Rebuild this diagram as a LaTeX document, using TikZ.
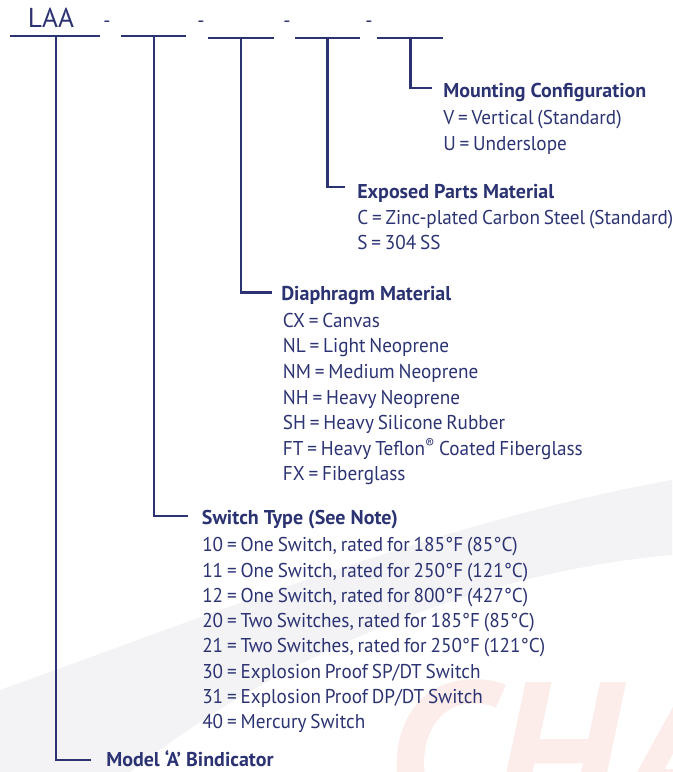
\documentclass[tikz,border=0pt]{standalone}
\usepackage{fontspec}
\setmainfont{PT Sans}
\newfontfamily\itemfont{PT Sans}[FakeStretch=0.96,WordSpace=0.75]
\definecolor{navy}{RGB}{44,51,114}
\definecolor{wmgrey}{RGB}{243,243,246}
\definecolor{wmred}{RGB}{252,236,234}
\begin{document}
\begin{tikzpicture}[x=0.75pt,y=-0.75pt,
  conn/.style={draw=navy,line width=1.8pt},
  uline/.style={draw=navy,line width=1.7pt},
  head/.style={anchor=base west,inner sep=0pt,text=navy,font=\fontsize{15}{18}\selectfont\bfseries},
  item/.style={anchor=base west,inner sep=0pt,text=navy,font=\itemfont\fontsize{15}{18}\selectfont},
  dashsign/.style={anchor=base,inner sep=0pt,text=navy,font=\fontsize{15}{18}\selectfont},
  ]
\useasboundingbox (0,0) rectangle (672,772);
% faint watermark
\begin{scope}
\clip (0,0) rectangle (672,772);
\fill[wmgrey] (0,690) .. controls (250,600) and (450,520) .. (672,480) -- (672,555) .. controls (500,570) and (300,640) .. (130,772) -- (0,772) -- cycle;
\node[anchor=base west,inner sep=0pt,text=wmred,font=\fontsize{150}{150}\selectfont\bfseries\itshape] (wm) at (385,822) {CHA};
\end{scope}
% code line
\node[anchor=base,inner sep=0pt,text=navy,font=\fontsize{20.5}{24}\selectfont] (laa) at (51,27) {LAA};
\node[dashsign] (d1) at (107,27) {-};
\node[dashsign] (d2) at (201,27) {-};
\node[dashsign] (d3) at (287,27) {-};
\node[dashsign] (d4) at (369,27) {-};
\coordinate (u1a) at (10,36);  \coordinate (u1b) at (100,36);
\coordinate (u2a) at (121,36); \coordinate (u2b) at (186,36);
\coordinate (u3a) at (208,38); \coordinate (u3b) at (274,38);
\coordinate (u4a) at (295,38); \coordinate (u4b) at (360,38);
\coordinate (u5a) at (377,38); \coordinate (u5b) at (443,38);
\draw[uline] (u1a) -- (u1b);
\draw[uline] (u2a) -- (u2b);
\draw[uline] (u3a) -- (u3b);
\draw[uline] (u4a) -- (u4b);
\draw[uline] (u5a) -- (u5b);
\coordinate (t1) at (56,36);
\coordinate (t2) at (154,36);
\coordinate (t3) at (241,38);
\coordinate (t4) at (327.5,38);
\coordinate (t5) at (410.5,38);
% hook ends
\coordinate (k1) at (91,760);
\coordinate (k2) at (188,516);
\coordinate (k3) at (272,292.5);
\coordinate (k4) at (345,187);
\coordinate (k5) at (432,88);
\draw[conn] (t1) |- (k1);
\draw[conn] (t2) |- (k2);
\draw[conn] (t3) |- (k3);
\draw[conn] (t4) |- (k4);
\draw[conn] (t5) |- (k5);
% Mounting configuration
\node[head] (hm) at (443,97.3) {Mounting Configuration};
\node[item] (m1) at (443,124.3) {V = Vertical (Standard)};
\node[item] (m2) at (443,150.7) {U = Underslope};
% Exposed parts
\node[head] (he) at (357,198) {Exposed Parts Material};
\node[item] (e1) at (357,224) {C = Zinc-plated Carbon Steel (Standard)};
\node[item] (e2) at (357,249.3) {S = 304 SS};
% Diaphragm
\node[head] (hd) at (281,300.7) {Diaphragm Material};
\node[item] (dm1) at (282.7,327.3) {CX = Canvas};
\node[item] (dm2) at (282.7,352.9) {NL = Light Neoprene};
\node[item] (dm3) at (282.7,378.5) {NM = Medium Neoprene};
\node[item] (dm4) at (282.7,404.1) {NH = Heavy Neoprene};
\node[item] (dm5) at (282.7,429.7) {SH = Heavy Silicone Rubber};
\node[item] (dm6) at (282.7,455.3) {FT = Heavy Teflon\textsuperscript{®} Coated Fiberglass};
\node[item] (dm7) at (282.7,480.9) {FX = Fiberglass};
% Switch type
\node[head] (hs) at (201.7,524.7) {Switch Type (See Note)};
\node[item] (s1) at (202,551.7) {10 = One Switch, rated for 185°F (85°C)};
\node[item] (s2) at (202,577) {11 = One Switch, rated for 250°F (121°C)};
\node[item] (s3) at (202,602.3) {12 = One Switch, rated for 800°F (427°C)};
\node[item] (s4) at (202,627.6) {20 = Two Switches, rated for 185°F (85°C)};
\node[item] (s5) at (202,652.9) {21 = Two Switches, rated for 250°F (121°C)};
\node[item] (s6) at (202,678.2) {30 = Explosion Proof SP/DT Switch};
\node[item] (s7) at (202,703.5) {31 = Explosion Proof DP/DT Switch};
\node[item] (s8) at (202,728.8) {40 = Mercury Switch};
% Model
\node[head] (hmod) at (106,766) {Model ‘A’ Bindicator};
\end{tikzpicture}
\end{document}
